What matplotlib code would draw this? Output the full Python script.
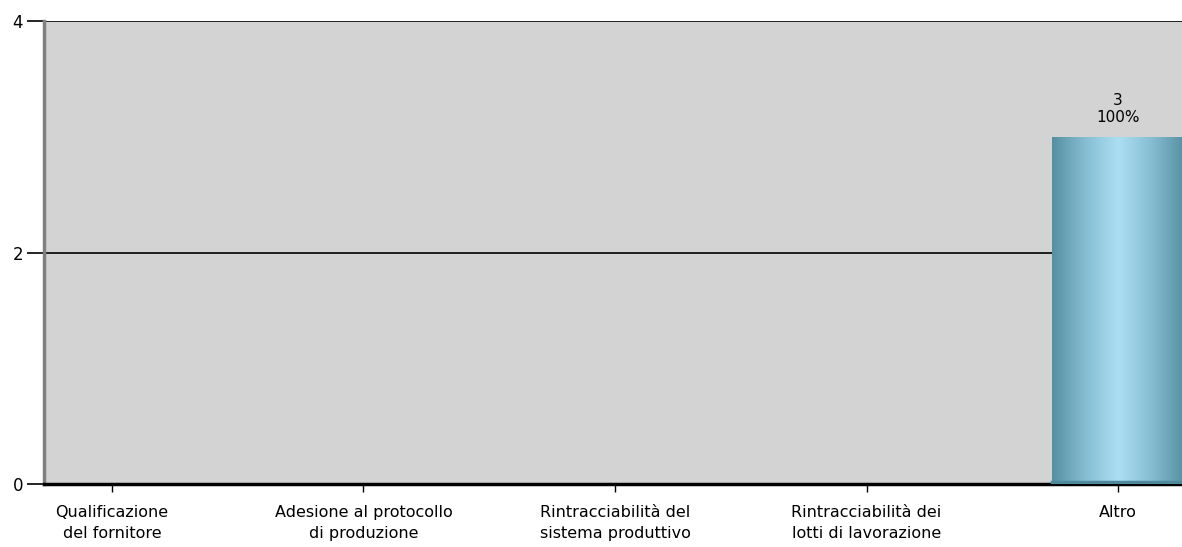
import numpy as np
import matplotlib.pyplot as plt
from matplotlib.colors import LinearSegmentedColormap

categories = ['Qualificazione\ndel fornitore', 'Adesione al protocollo\ndi produzione',
              'Rintracciabilità del\nsistema produttivo', 'Rintracciabilità dei\nlotti di lavorazione',
              'Altro']
values = [0, 0, 0, 0, 3]
percents = ['', '', '', '', '100%']
yticks = [0, 2, 4]

fig = plt.figure(figsize=(11.82, 5.47), dpi=100)
ax = fig.add_axes([44 / 1182, 1 - 484 / 547, (1182 - 44) / 1182, (484 - 21) / 547])
ax.set_facecolor('#d3d3d3')

x = np.arange(len(categories))

# gridline at 2 and top line at 4
for yv in yticks[1:]:
    ax.axhline(yv, color='black', lw=1.2, zorder=1)

# gradient fill for the bars
cmap = LinearSegmentedColormap.from_list('bar', ['#578fa2', '#86bdd2', '#addff4', '#86bdd2', '#578fa2'])
grad = np.linspace(0, 1, 256).reshape(1, -1)
bw = 0.525
bars = ax.bar(x, values, width=bw, color='#8cc3d8', zorder=2)
for rect, v in zip(bars, values):
    if v <= 0:
        continue
    x0 = rect.get_x()
    im = ax.imshow(grad, cmap=cmap, aspect='auto', extent=[x0, x0 + bw, 0, v], zorder=3)
    im.set_clip_path(rect)
    ax.plot([x0, x0 + bw], [0.015, 0.015], color='#4f8a9c', lw=2.5, zorder=4)

for xi, v, p in zip(x, values, percents):
    if v > 0:
        ax.text(xi, v + 0.1, f'{v}\n{p}', ha='center', va='bottom', fontsize=11,
                linespacing=1.15, zorder=5)

ax.set_xlim(-0.27, 4.254)
ax.set_ylim(0, 4)

ax.set_xticks(x)
ax.set_xticklabels(categories, fontsize=11.5, linespacing=1.5)
ax.set_yticks(yticks)
ax.set_yticklabels([str(t) for t in yticks], fontsize=12)
ax.tick_params(axis='x', length=6, width=1, pad=9)
ax.tick_params(axis='y', length=12, width=1.2, pad=3)

for s in ['top', 'right']:
    ax.spines[s].set_visible(False)
ax.spines['left'].set_color('#808080')
ax.spines['left'].set_linewidth(2.5)
ax.spines['bottom'].set_color('black')
ax.spines['bottom'].set_linewidth(2.5)

fig.savefig('out.png', dpi=100)
